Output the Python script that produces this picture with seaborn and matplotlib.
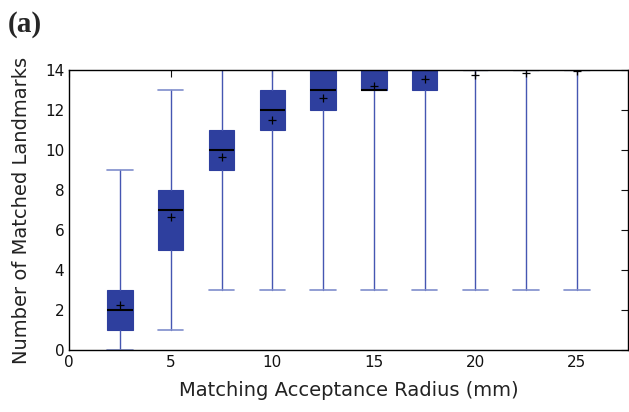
import matplotlib
matplotlib.use("Agg")
import matplotlib.pyplot as plt
import seaborn as sns

# Data
radii = [2.5, 5, 7.5, 10, 12.5, 15, 17.5, 20, 22.5, 25]
whisker_low = [0, 1, 3, 3, 3, 3, 3, 3, 3, 3]
q1 = [1, 5, 9, 11, 12, 13, 13, 14, 14, 14]
medians = [2, 7, 10, 12, 13, 13, 14, 14, 14, 14]
q3 = [3, 8, 11, 13, 14, 14, 14, 14, 14, 14]
whisker_high = [9, 13, 14, 14, 14, 14, 14, 14, 14, 14]
means = [2.25, 6.65, 9.65, 11.5, 12.6, 13.2, 13.55, 13.75, 13.85, 13.95]
x_ticks = [0, 5, 10, 15, 20, 25]
y_ticks = [0, 2, 4, 6, 8, 10, 12, 14]

sns.set_style("white")
plt.rcParams['font.family'] = ['DejaVu Sans']

fig = plt.figure(figsize=(6.29, 4.12), dpi=100)
ax = fig.add_axes([0.110, 0.150, 0.888, 0.680])

box_color = "#2e3f9e"
line_color = "#4556b2"

stats = []
for i in range(len(radii)):
    stats.append(dict(whislo=whisker_low[i], q1=q1[i], med=medians[i],
                      q3=q3[i], whishi=whisker_high[i], mean=means[i],
                      fliers=[]))

ax.bxp(stats, positions=radii, widths=1.25, capwidths=1.25, patch_artist=True,
       showmeans=True, showfliers=False,
       boxprops=dict(facecolor=box_color, edgecolor=box_color, linewidth=0.8),
       whiskerprops=dict(color=line_color, linewidth=1.0, linestyle='-'),
       capprops=dict(color="#7f8dcc", linewidth=1.2),
       medianprops=dict(color="black", linewidth=1.5),
       meanprops=dict(marker='+', markeredgecolor='black', markersize=6,
                      markeredgewidth=0.9))

ax.set_xlim(0, 27.5)
ax.set_ylim(0, 14)
ax.set_xticks(x_ticks)
ax.set_xticklabels([str(t) for t in x_ticks])
ax.set_yticks(y_ticks)
ax.set_yticklabels([str(t) for t in y_ticks])
ax.tick_params(direction='in', top=True, right=True, length=5, width=0.8,
               labelsize=11, colors='#111111')
for s in ax.spines.values():
    s.set_visible(True)
    s.set_color('black')
    s.set_linewidth(1.0)

ax.set_xlabel("Matching Acceptance Radius (mm)", fontsize=14, color='#222222', labelpad=8)
ax.set_ylabel("Number of Matched Landmarks", fontsize=14, color='#222222', labelpad=10)

fig.text(0.013, 0.94, "(a)", fontsize=21, fontweight='bold',
         family=['Liberation Serif'], ha='left', va='center')

fig.savefig("out.png", dpi=100)
